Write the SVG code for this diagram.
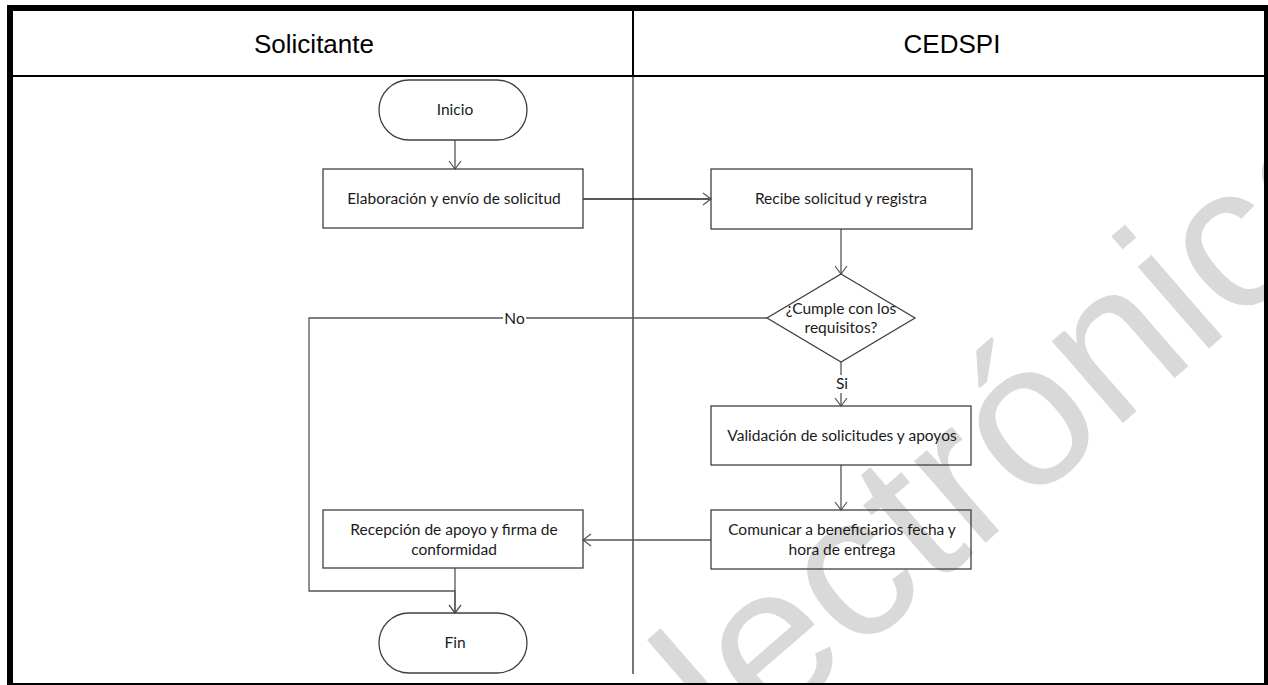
<svg xmlns="http://www.w3.org/2000/svg" width="1268" height="685" viewBox="0 0 1268 685">
<style>
.box{fill:none;stroke:#404040;stroke-width:1.3}
.lbl{font-family:Lato,"Open Sans",sans-serif;font-size:15.5px;fill:#1a1a1a;text-anchor:middle}
.hdr{font-family:"Liberation Sans",Arial,sans-serif;font-size:26px;fill:#000;text-anchor:middle}
.conn{fill:none;stroke:#555;stroke-width:1.3}
.wm{font-family:"Liberation Sans",Arial,sans-serif;font-size:205px;fill:#d9d9d9}
</style>
<defs>
<marker id="arr" markerUnits="userSpaceOnUse" markerWidth="12" markerHeight="14" refX="9" refY="7" orient="auto">
<path d="M1,1 L9,7 L1,13" fill="none" stroke="#555" stroke-width="1.2"/>
</marker>
</defs>
<rect x="0" y="0" width="1268" height="685" fill="#fff"/>
<text class="wm" transform="translate(648,836) rotate(-41)">electrónica</text>
<g id="frame">
<rect x="7" y="5" width="1261" height="6" fill="#000"/>
<rect x="7" y="5" width="6" height="680" fill="#000"/>
<rect x="1264" y="5" width="4" height="680" fill="#000"/>
<rect x="7" y="683" width="1261" height="2" fill="#000"/>
<rect x="13" y="75" width="1251" height="2" fill="#000"/>
<rect x="632" y="11" width="2" height="65" fill="#000"/>
<line x1="633" y1="77" x2="633" y2="674" stroke="#555" stroke-width="1.6"/>
</g>
<g id="lane-solicitante"><text class="hdr" x="314" y="53">Solicitante</text></g>
<g id="lane-cedspi"><text class="hdr" x="952" y="53">CEDSPI</text></g>
<g id="connectors">
<line class="conn" x1="455" y1="140" x2="455" y2="169" marker-end="url(#arr)"/>
<line class="conn" x1="583" y1="199" x2="711" y2="199" marker-end="url(#arr)" style="stroke:#222"/>
<line class="conn" x1="841" y1="229" x2="841" y2="274" marker-end="url(#arr)"/>
<line class="conn" x1="841" y1="362" x2="841" y2="406" marker-end="url(#arr)"/>
<line class="conn" x1="841" y1="465" x2="841" y2="510" marker-end="url(#arr)"/>
<line class="conn" x1="711" y1="540" x2="583" y2="540" marker-end="url(#arr)"/>
<line class="conn" x1="455" y1="568" x2="455" y2="613" marker-end="url(#arr)"/>
<path class="conn" d="M767,318 H309 V591 H455 V613" marker-end="url(#arr)"/>
<rect x="503" y="310" width="23" height="18" fill="#fff"/>
<text class="lbl" x="514.5" y="324">No</text>
<rect x="834" y="375" width="15" height="18" fill="#fff"/>
<text class="lbl" x="842" y="389">Si</text>
</g>
<g id="inicio">
<rect class="box" x="379" y="80" width="148" height="60" rx="30" ry="30"/>
<text class="lbl" x="455" y="115">Inicio</text>
</g>
<g id="elaboracion">
<rect class="box" x="323" y="169" width="260" height="59"/>
<text class="lbl" x="454" y="204">Elaboración y envío de solicitud</text>
</g>
<g id="recibe">
<rect class="box" x="711" y="169" width="261" height="60"/>
<text class="lbl" x="841" y="204">Recibe solicitud y registra</text>
</g>
<g id="cumple">
<polygon class="box" points="841,274 915,318 841,362 767,318"/>
<text class="lbl" x="841" y="314">¿Cumple con los</text>
<text class="lbl" x="841" y="333">requisitos?</text>
</g>
<g id="validacion">
<rect class="box" x="711" y="406" width="260" height="59"/>
<text class="lbl" x="842" y="441">Validación de solicitudes y apoyos</text>
</g>
<g id="comunicar">
<rect class="box" x="711" y="510" width="260" height="59"/>
<text class="lbl" x="842" y="535">Comunicar a beneficiarios fecha y</text>
<text class="lbl" x="842" y="555">hora de entrega</text>
</g>
<g id="recepcion">
<rect class="box" x="323" y="510" width="260" height="58"/>
<text class="lbl" x="454" y="535">Recepción de apoyo y firma de</text>
<text class="lbl" x="454" y="555">conformidad</text>
</g>
<g id="fin">
<rect class="box" x="379" y="613" width="148" height="60" rx="30" ry="30"/>
<text class="lbl" x="455" y="648">Fin</text>
</g>
</svg>
